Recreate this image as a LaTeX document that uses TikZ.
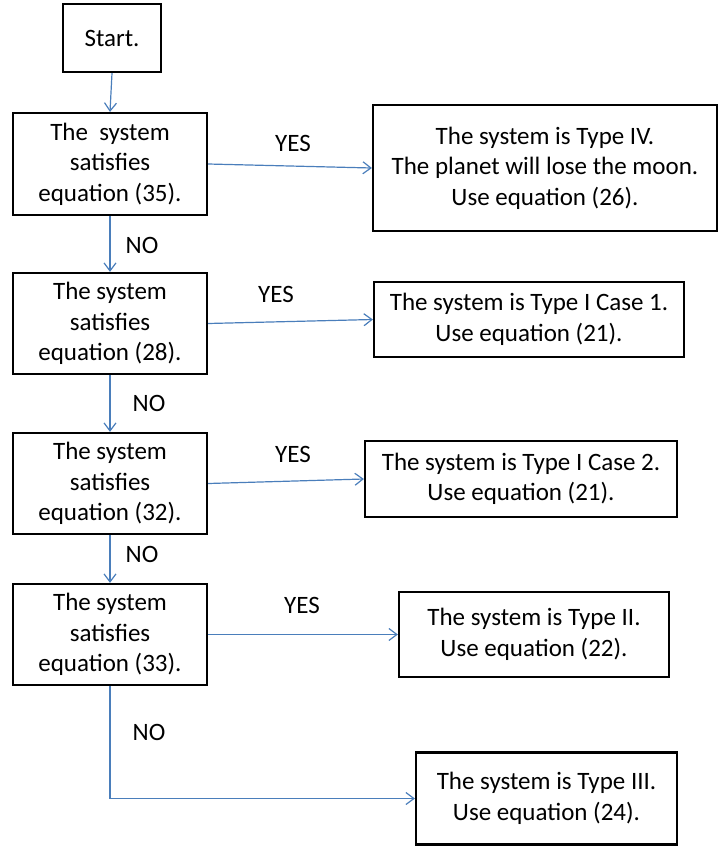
\documentclass[tikz,border=0pt]{standalone}
\usepackage{fontspec}
\setmainfont{Carlito}
\usetikzlibrary{arrows.meta}
\definecolor{flowblue}{RGB}{74,126,187}
\tikzset{
  box/.style={draw=black, line width=2.2pt, rectangle, align=center, inner sep=0pt,
              font=\fontsize{25}{30.5}\selectfont},
  flow/.style={draw=flowblue, line width=1.2pt, -{Straight Barb[length=8pt,width=12pt,line width=1.2pt]}},
  lbl/.style={font=\fontsize{25}{30.5}\selectfont, inner sep=0pt}
}
\begin{document}
\begin{tikzpicture}[x=1pt, y=-1pt]
\useasboundingbox (0,0) rectangle (725,846);
% left column
\node[box, minimum width=98pt, minimum height=68pt] (start) at (112,38) {Start.};
\node[box, minimum width=194pt, minimum height=102pt] (b1) at (110,164) {The\ \ system\\satisfies\\equation (35).};
\node[box, minimum width=194pt, minimum height=101pt] (b2) at (110,323.5) {The system\\satisfies\\equation (28).};
\node[box, minimum width=194pt, minimum height=101pt] (b3) at (110,483.5) {The system\\satisfies\\equation (32).};
\node[box, minimum width=194pt, minimum height=101pt] (b4) at (110,634.5) {The system\\satisfies\\equation (33).};
% right column
\node[box, minimum width=344pt, minimum height=126pt] (r1) at (545,168) {The system is Type IV.\\The planet will lose the moon.\\Use equation (26).};
\node[box, minimum width=310pt, minimum height=75pt] (r2) at (529,319.5) {The system is Type I Case 1.\\Use equation (21).};
\node[box, minimum width=312pt, minimum height=76pt] (r3) at (521,479) {The system is Type I Case 2.\\Use equation (21).};
\node[box, minimum width=270pt, minimum height=85pt] (r4) at (534,634.5) {The system is Type II.\\Use equation (22).};
\node[box, minimum width=261pt, minimum height=92pt] (r5) at (546.5,798.5) {The system is Type III.\\Use equation (24).};
% labels
\node[lbl] (y1) at (293,143) {YES};
\node[lbl] (y2) at (276,294) {YES};
\node[lbl] (y3) at (293,454) {YES};
\node[lbl] (y4) at (302,605) {YES};
\node[lbl] (n1) at (142,245) {NO};
\node[lbl] (n2) at (149,403) {NO};
\node[lbl] (n3) at (142,554) {NO};
\node[lbl] (n4) at (149,732) {NO};
% connectors
\coordinate (corner) at (b4.south |- r5.west);
\draw[flow] (start.south) -- (b1.north);
\draw[flow] (b1.south) -- (b2.north);
\draw[flow] (b2.south) -- (b3.north);
\draw[flow] (b3.south) -- (b4.north);
\draw[flow] (b1.east) -- (r1.west);
\draw[flow] (b2.east) -- (r2.west);
\draw[flow] (b3.east) -- (r3.west);
\draw[flow] (b4.east) -- (r4.west);
\draw[flow] (b4.south) -- (corner) -- (r5.west);
\end{tikzpicture}
\end{document}
